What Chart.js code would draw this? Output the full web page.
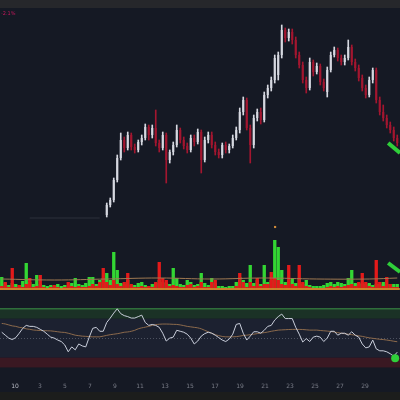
<!DOCTYPE html>
<html>
<head>
<meta charset="utf-8">
<script src="https://cdn.jsdelivr.net/npm/chart.js@4.4.0/dist/chart.umd.min.js"></script>
<style>
    html, body { margin: 0; padding: 0; width: 400px; height: 400px; overflow: hidden; background: #151924; font-family: 'DejaVu Sans', sans-serif; }
    #topBar { position: absolute; left: 0; top: 0; width: 400px; height: 8px; background: #26272b; }
    #bottomBar { position: absolute; left: 0; top: 392px; width: 400px; height: 8px; background: #1c1d1c; }
    #priceCanvas { position: absolute; left: 0; top: 8px; }
    #rsiCanvas { position: absolute; left: 0; top: 300px; }
    #tag { position: absolute; left: 1px; top: 10px; font-size: 5px; color: #c2185b; }
</style>
</head>
<body>
<div id="topBar"></div>
<div id="bottomBar"></div>
<canvas id="priceCanvas" width="400" height="288"></canvas>
<canvas id="rsiCanvas" width="400" height="92"></canvas>
<div id="tag">-2.1%</div>
<script>
// candles start at this bar index
const candleStart = 30;
const priceOpen = [85, 95, 100, 120, 142, 160, 152, 165, 153, 150,
    158, 162, 173, 165, 172, 157, 152, 165, 140, 148,
    155, 170, 160, 154, 150, 162, 158, 168, 140, 160,
    165, 155, 148, 145, 155, 150, 154, 162, 170, 188,
    200, 172, 155, 182, 188, 180, 205, 212, 220, 225,
    245, 270, 262, 268, 260, 245, 235, 220, 212, 238,
    228, 234, 218, 208, 230, 245, 250, 242, 238, 242,
    253, 238, 232, 222, 212, 205, 220, 230, 200, 188,
    182, 175, 170, 162];
const priceClose = [95, 100, 120, 142, 160, 152, 165, 153, 150, 158,
    162, 173, 165, 172, 157, 152, 165, 140, 148, 155,
    170, 160, 154, 150, 162, 158, 168, 140, 160, 165,
    155, 148, 145, 155, 150, 154, 162, 170, 188, 200,
    172, 155, 182, 188, 180, 205, 212, 220, 242, 245,
    270, 262, 268, 260, 245, 235, 220, 212, 238, 228,
    234, 218, 212, 230, 245, 250, 242, 238, 242, 253,
    238, 232, 222, 212, 205, 220, 230, 200, 188, 182,
    175, 170, 162, 157];
const priceHigh = [97, 102, 122, 145, 167, 163, 168, 167, 156, 160,
    165, 176, 175, 175, 190, 160, 168, 167, 150, 158,
    175, 172, 163, 157, 165, 165, 171, 170, 163, 168,
    168, 158, 151, 157, 158, 156, 165, 173, 192, 203,
    202, 175, 185, 191, 192, 208, 215, 223, 245, 248,
    275, 272, 271, 271, 263, 248, 238, 223, 242, 240,
    237, 236, 221, 233, 248, 253, 252, 245, 245, 260,
    255, 241, 235, 225, 215, 223, 232, 232, 203, 195,
    185, 178, 173, 165];
const priceLow = [83, 93, 98, 118, 140, 148, 150, 150, 147, 148,
    155, 160, 160, 162, 154, 148, 150, 117, 137, 145,
    153, 157, 151, 147, 148, 154, 156, 127, 138, 157,
    152, 145, 142, 142, 147, 147, 152, 160, 167, 185,
    170, 137, 152, 179, 176, 178, 202, 209, 217, 220,
    242, 258, 259, 256, 242, 232, 217, 207, 210, 224,
    226, 215, 209, 203, 228, 243, 239, 235, 235, 240,
    235, 229, 219, 209, 202, 203, 217, 197, 185, 179,
    172, 167, 159, 154];

const volumeUp = [13, 7, 5, 7, 6, 5, 9, 27, 8, 6,
    15, 6, 5, 4, 5, 4, 6, 4, 5, 5,
    7, 12, 6, 5, 7, 13, 13, 6, 10, 12,
    17, 10, 38, 20, 7, 6, 10, 5, 5, 7,
    8, 5, 4, 6, 7, 10, 8, 7, 6, 22,
    12, 6, 5, 10, 8, 5, 6, 17, 7, 5,
    12, 7, 4, 4, 3, 4, 4, 8, 13, 10,
    7, 25, 7, 10, 6, 25, 8, 10, 50, 43,
    20, 8, 10, 12, 7, 12, 6, 10, 5, 4,
    4, 4, 5, 7, 8, 6, 8, 7, 6, 12,
    20, 7, 6, 7, 6, 7, 5, 6, 6, 8,
    6, 6, 6, 6];
const volumeDown = [4, 8, 3, 22, 3, 5, 3, 6, 12, 3,
    4, 15, 3, 2, 3, 5, 3, 2, 3, 8,
    4, 3, 4, 3, 3, 4, 6, 4, 8, 22,
    8, 5, 10, 6, 4, 8, 17, 6, 3, 3,
    4, 3, 4, 3, 8, 28, 12, 10, 4, 5,
    4, 3, 3, 5, 6, 3, 4, 8, 3, 3,
    8, 10, 2, 2, 2, 2, 2, 4, 17, 8,
    3, 8, 4, 12, 4, 6, 6, 18, 12, 10,
    6, 5, 25, 6, 4, 25, 8, 4, 3, 2,
    2, 2, 2, 3, 4, 3, 4, 3, 4, 5,
    6, 4, 8, 17, 8, 4, 3, 30, 8, 4,
    13, 6, 3, 3];
const volumeMaIdx = [0, 15, 30, 45, 60, 75, 90, 105, 113];
const volumeMaVal = [11, 10, 11, 12, 11, 12, 11, 11, 12];

const rsiValues = [56, 53, 50, 48.5, 50.5, 55, 60, 63, 62, 62,
    61, 59, 57, 54, 51, 50, 48, 46.5, 43, 36,
    41, 38, 44, 42, 41, 51, 60, 61, 57, 57,
    66, 70.5, 75.6, 80, 75, 73, 72, 70.5, 70.5, 72,
    73.5, 66, 63, 64, 63, 61, 55, 47, 50, 51,
    58, 57, 56, 54, 50, 44, 47, 52, 54.6, 56,
    55, 53, 50.5, 48, 46.5, 49, 54, 64, 65, 55,
    48, 52, 56.5, 56.5, 55, 58, 62, 63, 68.5, 72,
    74.6, 70, 70, 70, 61, 54, 46, 49.5, 46.5, 51,
    52, 51, 46.5, 50, 57, 57, 53, 55, 55, 53,
    56.5, 53, 51, 44, 40, 41, 48, 39, 37, 37,
    36, 34, 31.5, 35.6];
const rsiMa = [65, 64.5, 63.5, 62.5, 62, 61, 60.5, 59.5, 59, 58.3,
    58, 57.8, 57.6, 57.5, 57.4, 57, 56.5, 56, 55.8, 55,
    54, 53, 52.5, 52, 51.8, 51.5, 51.3, 51.3, 51.3, 52,
    52.8, 53.5, 54, 54.5, 55.2, 56, 56.3, 57, 58, 59.5,
    60.5, 61.2, 62, 63, 63.8, 64.2, 64.4, 64.4, 64.3, 64.1,
    64, 63.5, 62.8, 62, 61.5, 61, 60.5, 59.5, 58, 56.5,
    55, 53.5, 52.5, 51.7, 51.3, 51.3, 51.3, 51.5, 52, 52.7,
    53, 53.5, 54, 54.6, 55.2, 55.6, 56.2, 57, 57.6, 58.2,
    58.4, 58.6, 58.8, 58.9, 58.9, 58.9, 58.8, 58.5, 58.2, 58.2,
    58.2, 57.8, 57.5, 57.2, 56.8, 56.2, 55.6, 55, 54.5, 54,
    53.5, 53, 52.3, 51.8, 51, 50.3, 49.8, 49.3, 48.8, 48.5,
    48, 47.5, 46.8, 46.3];
const rsiUpperBand = [70, 80];
const rsiLowerBand = [20, 30];

// signal marks at the right edge
const signalX = [110.4, 113.8];
const signalPrice = [157, 147];
const signalVolume = [27, 18];
const signalRsiX = [112.4];
const signalRsi = [29.5];

// old price line and the volume alert dot
const priceLineX = [8, 28];
const priceLineY = [82, 82];
const alertX = [78.1];
const alertVolume = [63];

const xTickLabels = ['10', '3', '5', '7', '9', '11', '13', '15', '17', '19', '21', '23', '25', '27', '29'];
const tickStart = 3.79;
const tickStep = 7.143;

const barCount = volumeUp.length;
const xMin = -0.5;
const xMax = 113.786;

const UP = '#d6d8e0';
const DOWN = '#a3162f';

const candleUp = priceOpen.map((o, i) => priceClose[i] >= o);
const bodies = priceOpen.map((o, i) => ({ x: candleStart + i, y: [o, priceClose[i]] }));
const wicks = priceLow.map((l, i) => ({ x: candleStart + i, y: [l, priceHigh[i]] }));
const candleColors = candleUp.map(up => up ? UP : DOWN);

const idx = Array.from({ length: barCount }, (_, i) => i);
const toPoints = (xs, ys) => xs.map((x, i) => ({ x, y: ys[i] }));

Chart.defaults.animation = false;
Chart.defaults.font.family = "'DejaVu Sans', sans-serif";

new Chart(document.getElementById('priceCanvas'), {
    type: 'bar',
    data: {
        datasets: [
            {
                type: 'line', data: toPoints(signalX, signalPrice), yAxisID: 'y',
                borderColor: '#2fcf3a', borderWidth: 4, pointRadius: 0, order: 0
            },
            {
                type: 'line', data: toPoints(signalX, signalVolume), yAxisID: 'yv',
                borderColor: '#2fcf3a', borderWidth: 4, pointRadius: 0, order: 0
            },
            {
                type: 'line', data: toPoints(alertX, alertVolume), yAxisID: 'yv',
                showLine: false, pointStyle: 'rect', pointRadius: 1.5,
                pointBackgroundColor: '#d08a3a', pointBorderWidth: 0, order: 0
            },
            {
                data: bodies, yAxisID: 'y', grouped: false,
                backgroundColor: candleColors, borderWidth: 0,
                barPercentage: 0.6, categoryPercentage: 1, order: 1
            },
            {
                data: wicks, yAxisID: 'y', grouped: false,
                backgroundColor: candleColors, borderWidth: 0,
                barThickness: 1, order: 2
            },
            {
                type: 'line', data: toPoints(priceLineX, priceLineY), yAxisID: 'y',
                borderColor: '#2c303b', borderWidth: 1, pointRadius: 0, order: 3
            },
            {
                type: 'line', data: toPoints(volumeMaIdx, volumeMaVal), yAxisID: 'yv',
                borderColor: '#a07a52', borderWidth: 1, pointRadius: 0, tension: 0.4, order: 4
            },
            {
                type: 'line', data: toPoints([xMin, xMax], [1, 1]), yAxisID: 'yv',
                borderColor: '#c8a032', borderWidth: 1.5, pointRadius: 0, order: 5
            },
            {
                data: toPoints(idx, volumeDown), yAxisID: 'yv', grouped: false,
                backgroundColor: '#e31a1a', borderWidth: 0,
                barPercentage: 0.95, categoryPercentage: 1, order: 6
            },
            {
                data: toPoints(idx, volumeUp), yAxisID: 'yv', grouped: false,
                backgroundColor: '#33d633', borderWidth: 0,
                barPercentage: 0.95, categoryPercentage: 1, order: 7
            }
        ]
    },
    options: {
        responsive: false,
        layout: { padding: 0, autoPadding: false },
        plugins: { legend: { display: false }, tooltip: { enabled: false } },
        scales: {
            x: { type: 'linear', display: false, offset: false, min: xMin, max: xMax },
            y: { display: false, min: 4, max: 292 },
            yv: { display: false, position: 'right', min: -6, max: 282 }
        }
    }
});

const rsiBackground = {
    id: 'rsiBackground',
    beforeDatasetsDraw(chart) {
        const { ctx, chartArea, scales: { y } } = chart;
        const fillBand = (lo, hi, color) => {
            const top = y.getPixelForValue(hi);
            const bottom = y.getPixelForValue(lo);
            ctx.fillStyle = color;
            ctx.fillRect(chartArea.left, top, chartArea.width, bottom - top);
        };
        ctx.save();
        fillBand(rsiLowerBand[1], rsiUpperBand[0], '#1c2130');
        fillBand(rsiUpperBand[0], rsiUpperBand[1], '#1b3226');
        fillBand(rsiLowerBand[0], rsiLowerBand[1], '#3a1822');
        // top band edge
        ctx.strokeStyle = '#2f6e3b';
        ctx.lineWidth = 1.5;
        ctx.beginPath();
        ctx.moveTo(chartArea.left, y.getPixelForValue(rsiUpperBand[1]));
        ctx.lineTo(chartArea.right, y.getPixelForValue(rsiUpperBand[1]));
        ctx.stroke();
        // dotted middle line
        ctx.strokeStyle = '#4d5260';
        ctx.lineWidth = 1;
        ctx.setLineDash([1, 2]);
        ctx.beginPath();
        ctx.moveTo(chartArea.left, Math.round(y.getPixelForValue(50)) + 0.5);
        ctx.lineTo(chartArea.right, Math.round(y.getPixelForValue(50)) + 0.5);
        ctx.stroke();
        ctx.restore();
    }
};

new Chart(document.getElementById('rsiCanvas'), {
    type: 'line',
    data: {
        datasets: [
            {
                data: toPoints(signalRsiX, signalRsi), showLine: false,
                pointRadius: 4, pointBackgroundColor: '#2fcf3a', pointBorderWidth: 0, order: 0
            },
            {
                data: toPoints(idx, rsiValues), borderColor: '#c9cedb',
                borderWidth: 1, pointRadius: 0, order: 1
            },
            {
                data: toPoints(idx, rsiMa), borderColor: '#8c6a4c',
                borderWidth: 1, pointRadius: 0, tension: 0.3, order: 2
            }
        ]
    },
    options: {
        responsive: false,
        layout: { padding: 0, autoPadding: false },
        plugins: { legend: { display: false }, tooltip: { enabled: false } },
        scales: {
            x: {
                type: 'linear', min: xMin, max: xMax, offset: false,
                grid: { display: false, drawTicks: false }, border: { display: false },
                afterBuildTicks: axis => {
                    axis.ticks = xTickLabels.map((_, k) => ({ value: tickStart + k * tickStep }));
                },
                afterFit: axis => { axis.height = 11; },
                ticks: {
                    autoSkip: false, maxRotation: 0, padding: 2,
                    font: { size: 6 },
                    color: c => c.index === 0 ? '#b8bbc4' : '#787b86',
                    callback: (value, index) => xTickLabels[index]
                }
            },
            y: { display: false, min: 6.1, max: 89 }
        }
    },
    plugins: [rsiBackground]
});
</script>
</body>
</html>
